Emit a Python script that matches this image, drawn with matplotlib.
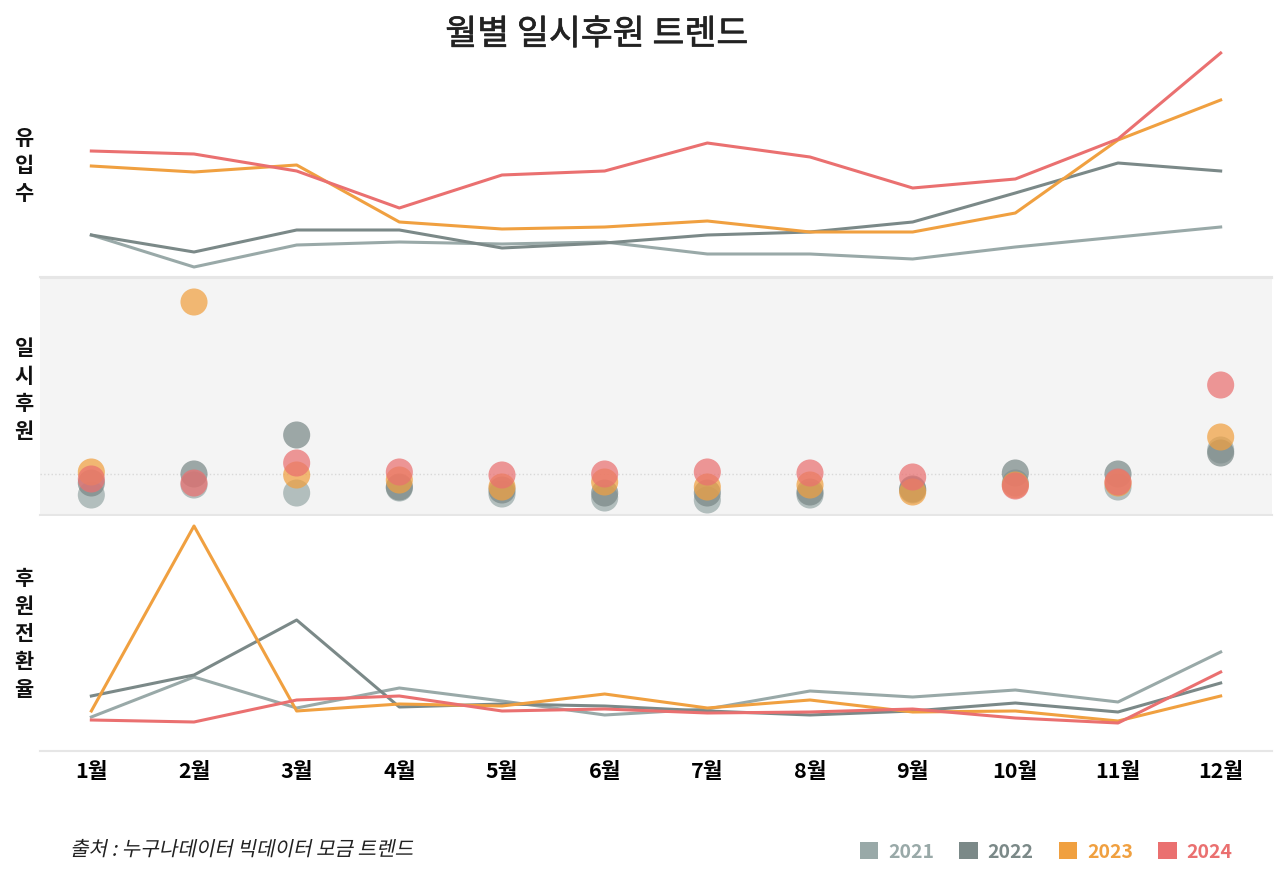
import matplotlib.pyplot as plt
import matplotlib.patheffects as pe
from matplotlib.patches import Patch, PathPatch
from matplotlib.textpath import TextPath
from matplotlib.font_manager import FontProperties
from matplotlib.transforms import Affine2D, IdentityTransform
import numpy as np

plt.rcParams["font.family"] = ["Noto Sans CJK KR", "DejaVu Sans"]

months = ["1월", "2월", "3월", "4월", "5월", "6월", "7월", "8월", "9월", "10월", "11월", "12월"]
years = ["2021", "2022", "2023", "2024"]
colors = ["#99a9a8", "#7b8988", "#f0a040", "#ea7070"]

# 유입수 (relative units)
inflow_2021 = [42, 10, 32, 35, 33, 35, 23, 23, 18, 30, 40, 50]
inflow_2022 = [42, 25, 47, 47, 29, 34, 42, 45, 55, 84, 114, 106]
inflow_2023 = [111, 105, 112, 55, 48, 50, 56, 45, 45, 64, 137, 177]
inflow_2024 = [126, 123, 106, 69, 102, 106, 134, 120, 89, 98, 138, 224]

# 일시후원
donate_2021 = [20, 30, 22, 27, 21, 17, 15, 20, 25, 32, 28, 65]
donate_2022 = [32, 41, 80, 28, 25, 22, 22, 23, 26, 42, 41, 62]
donate_2023 = [43, 213, 40, 35, 28, 33, 28, 30, 23, 30, 32, 78]
donate_2024 = [36, 32, 52, 43, 40, 41, 43, 42, 38, 29, 33, 130]
donate_ref = 41

# 후원전환율
conv_2021 = [34, 74, 43, 63, 50, 36, 42, 60, 54, 61, 49, 99]
conv_2022 = [55, 76, 131, 44, 47, 45, 40, 36, 40, 48, 39, 68]
conv_2023 = [40, 225, 40, 47, 45, 57, 43, 51, 39, 40, 30, 55]
conv_2024 = [31, 29, 51, 55, 40, 42, 38, 39, 42, 33, 28, 79]

inflow = [inflow_2021, inflow_2022, inflow_2023, inflow_2024]
donate = [donate_2021, donate_2022, donate_2023, donate_2024]
conv = [conv_2021, conv_2022, conv_2023, conv_2024]

W, H = 1280, 881
DPI = 100
fig = plt.figure(figsize=(W / DPI, H / DPI), dpi=DPI)


def box(top, bottom):
    return [40 / W, 1 - bottom / H, 1232 / W, (bottom - top) / H]


x = np.arange(len(months))

ax1 = fig.add_axes(box(45, 277))
for vals, c in zip(inflow, colors):
    ax1.plot(x, vals, color=c, lw=2.2)
ax1.set_ylim(0, 232)

ax2 = fig.add_axes(box(278, 515))
ax2.set_facecolor("#f4f4f4")
ax2.axhline(donate_ref, color="#d8d8d8", lw=1, ls=":", zorder=0)
for vals, c in zip(donate, colors):
    ax2.scatter(x, vals, s=380, color=c, alpha=0.72, edgecolors="none")
ax2.set_ylim(0, 237)

ax3 = fig.add_axes(box(516, 751))
for vals, c in zip(conv, colors):
    ax3.plot(x, vals, color=c, lw=2.2)
ax3.set_ylim(0, 235)

for ax in (ax1, ax2, ax3):
    ax.set_xlim(-0.5, 11.5)
    ax.set_yticks([])
    for s in ("top", "left", "right"):
        ax.spines[s].set_visible(False)
    ax.spines["bottom"].set_color("#e6e6e6")
    ax.spines["bottom"].set_linewidth(1.5)
    ax.tick_params(axis="x", length=0)

ax2.spines["top"].set_visible(True)
ax2.spines["top"].set_color("#e6e6e6")
ax1.set_xticks([])
ax2.set_xticks([])
ax3.set_xticks(x)
ax3.set_xticklabels(months, fontsize=15.5, fontweight="bold")
ax3.tick_params(axis="x", pad=7)

fig.text(597 / W, 1 - 35 / H, "월별 일시후원 트렌드", ha="center", va="center",
         fontsize=25, color="#222222",
         path_effects=[pe.withStroke(linewidth=0.45, foreground="#222222")])

for label, yc in [("유\n입\n수", 166), ("일\n시\n후\n원", 390), ("후\n원\n전\n환\n율", 634)]:
    fig.text(24 / W, 1 - yc / H, label, ha="center", va="center", fontsize=15,
             fontweight="bold", linespacing=1.4, color="#111111")

# italic-looking source note (CJK font has no italic, so skew the glyph outlines)
src = "출처 : 누구나데이터 빅데이터 모금 트렌드"
fsize_px = 14.5 * DPI / 72
tp = TextPath((0, 0), src, size=fsize_px, prop=FontProperties(family="Noto Sans CJK KR"))
tf = Affine2D().skew_deg(12, 0).translate(70, H - 848 - fsize_px * 0.38)
fig.patches.append(PathPatch(tf.transform_path(tp), transform=IdentityTransform(),
                             facecolor="#222222", edgecolor="none", figure=fig))

handles = [Patch(facecolor=c, edgecolor="none", label=y) for y, c in zip(years, colors)]
fig.legend(handles=handles, ncol=4, frameon=False, loc="center right",
           bbox_to_anchor=(1250 / W, 1 - 852 / H), labelcolor=colors,
           handlelength=0.95, handleheight=0.95, handletextpad=0.5, columnspacing=1.3,
           prop={"weight": "bold", "size": 14})

fig.savefig("out.png", dpi=DPI, facecolor="white")
